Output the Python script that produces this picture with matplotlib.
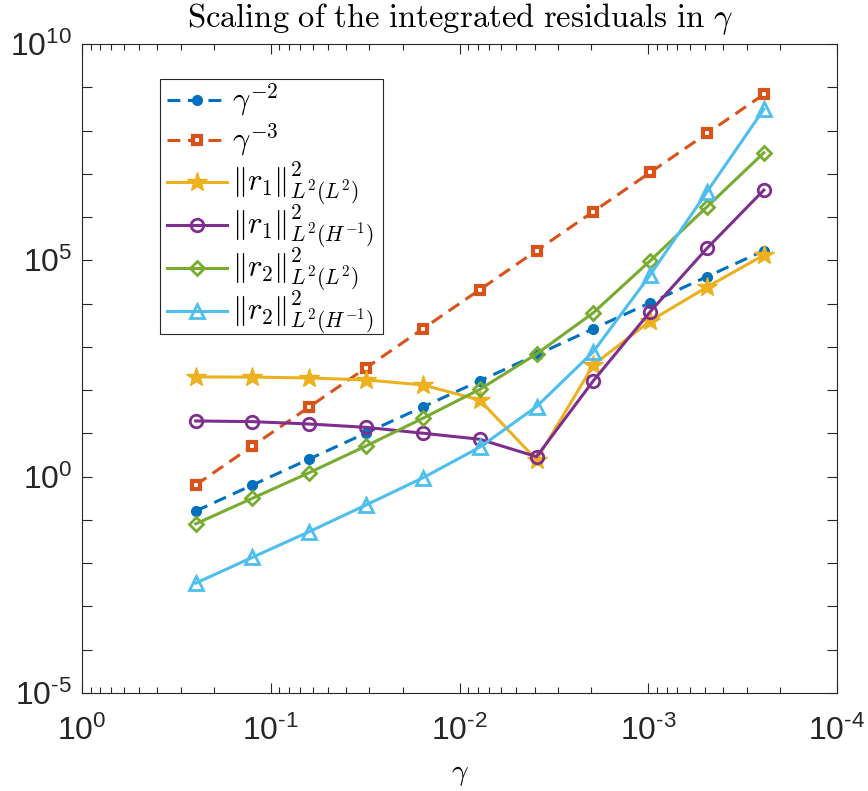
import numpy as np
import matplotlib
matplotlib.use('Agg')
import matplotlib.pyplot as plt
from matplotlib.ticker import LogLocator, FuncFormatter, NullFormatter
from matplotlib.font_manager import FontProperties
from matplotlib.patches import Rectangle

# 数据
gamma = [0.25, 0.125, 0.0625, 0.03125, 0.015625, 0.0078125, 0.00390625,
         0.001953125, 0.0009765625, 0.00048828125, 0.000244140625]

ref_g2 = [0.16, 0.64, 2.56, 10.24, 40.96, 163.84, 655.36, 2621.44,
          10485.76, 41943.04, 167772.16]
ref_g3 = [0.64, 5.12, 40.96, 327.68, 2621.44, 20971.52, 167772.16,
          1342177.28, 10737418.24, 85899345.92, 687194767.36]
r1_L2 = [202, 200, 191, 172, 132, 59, 2.44, 383, 3970, 24200, 1.32e5]
r1_Hm1 = [19.4, 18.7, 16.5, 13.8, 10.1, 7.32, 2.90, 165, 6500, 1.9e5, 4.2e6]
r2_L2 = [0.081, 0.317, 1.24, 5.13, 22.4, 104, 686, 6160, 9.8e4, 1.73e6, 3.07e7]
r2_Hm1 = [3.45e-3, 0.0137, 0.0536, 0.222, 0.94, 4.79, 41.6, 775, 4.59e4,
          3.85e6, 3.1e8]

labels = [r'$\gamma^{-2}$', r'$\gamma^{-3}$',
          r'$\|r_1\|^2_{L^2(L^2)}$', r'$\|r_1\|^2_{L^2(H^{-1})}$',
          r'$\|r_2\|^2_{L^2(L^2)}$', r'$\|r_2\|^2_{L^2(H^{-1})}$']

plt.rcParams['font.family'] = ['Liberation Sans', 'DejaVu Sans']
plt.rcParams['mathtext.fontset'] = 'custom'
plt.rcParams['mathtext.rm'] = 'Liberation Sans'
plt.rcParams['mathtext.it'] = 'Liberation Sans:italic'

W, H = 868, 791
ax_l, ax_r, ax_t, ax_b = 82, 837, 44, 693
fig = plt.figure(figsize=(W / 100, H / 100), dpi=100)
ax = fig.add_axes([ax_l / W, 1 - ax_b / H, (ax_r - ax_l) / W, (ax_b - ax_t) / H])

lw = 2.2
dash = (4.2, 2.5)
styles = [
    dict(ls='--', color='#0072BD', marker='o', ms=7, mfc='#0072BD', mec='#0072BD', dashes=dash),
    dict(ls='--', color='#D95319', marker='s', ms=6, mfc='white', mec='#D95319', mew=3, dashes=dash),
    dict(ls='-', color='#EDB120', marker='*', ms=15, mfc='#EDB120', mec='#EDB120'),
    dict(ls='-', color='#7E2F8E', marker='o', ms=9, mfc='none', mec='#7E2F8E', mew=2),
    dict(ls='-', color='#77AC30', marker='D', ms=7.5, mfc='none', mec='#77AC30', mew=2),
    dict(ls='-', color='#4DBEEE', marker='^', ms=10.5, mfc='none', mec='#4DBEEE', mew=2),
]
series = [ref_g2, ref_g3, r1_L2, r1_Hm1, r2_L2, r2_Hm1]

for ys, st in zip(series, styles):
    ax.loglog(gamma, ys, lw=lw, **st)

ax.set_xlim(1, 1e-4)
ax.set_ylim(1e-5, 1e10)

# 坐标轴刻度
ax.yaxis.set_major_locator(LogLocator(base=10, numticks=20))
ax.yaxis.set_minor_locator(LogLocator(base=10, subs=[], numticks=20))


def tick_text(e):
    if e < 0:
        return r'$\mathregular{10^{\text{-}%d}}$' % (-e)
    return r'$\mathregular{10^{%d}}$' % e


def ylab(v, pos):
    e = int(round(np.log10(v)))
    if e % 5 == 0:
        return tick_text(e)
    return ''


def xlab(v, pos):
    return tick_text(int(round(np.log10(v))))


ax.yaxis.set_major_formatter(FuncFormatter(ylab))
ax.xaxis.set_major_locator(LogLocator(base=10, numticks=10))
ax.xaxis.set_major_formatter(FuncFormatter(xlab))
ax.xaxis.set_minor_locator(LogLocator(base=10, subs=np.arange(2, 10), numticks=10))
ax.xaxis.set_minor_formatter(NullFormatter())

ax.tick_params(which='both', direction='in', top=True, right=True,
               labelsize=23, colors='#262626')
ax.tick_params(which='major', length=7, width=0.8)
ax.tick_params(which='minor', length=4, width=0.8)
ax.tick_params(axis='x', which='major', pad=16)
ax.tick_params(axis='y', which='major', pad=7)
for sp in ax.spines.values():
    sp.set_color('#262626')
    sp.set_linewidth(0.8)

cm_title = FontProperties(size=23.5, math_fontfamily='cm')
ax.set_title(r'$\mathrm{Scaling\ of\ the\ integrated\ residuals\ in\ }\gamma$',
             fontproperties=cm_title, pad=12)
ax.set_xlabel(r'$\gamma$', fontproperties=FontProperties(size=21, math_fontfamily='cm'),
              labelpad=10)

# 图例 (手动排版, 行距固定)


def axx(px):
    return (px - ax_l) / (ax_r - ax_l)


def axy(py):
    return (ax_b - py) / (ax_b - ax_t)


ax.add_patch(Rectangle((axx(160), axy(334)), axx(383) - axx(160), axy(79) - axy(334),
                       transform=ax.transAxes, facecolor='white', edgecolor='#262626',
                       lw=0.8, zorder=5, clip_on=False))
leg_font = FontProperties(size=22, math_fontfamily='cm')
row_y = [100, 140, 182, 225, 268, 311]
for lab, st, py in zip(labels, styles, row_y):
    ax.plot([axx(167), axx(197), axx(227)], [axy(py)] * 3, lw=lw, markevery=[1],
            transform=ax.transAxes, clip_on=False, zorder=6, **st)
    ax.text(axx(232), axy(py + 9), lab, fontproperties=leg_font, va='baseline',
            ha='left', transform=ax.transAxes, zorder=6)

fig.savefig('out.png', dpi=100)
